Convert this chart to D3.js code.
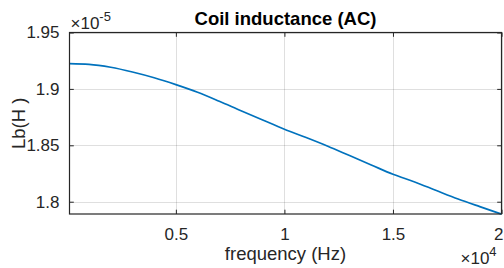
<!DOCTYPE html>
<html>
<head>
<meta charset="utf-8">
<script src="https://cdn.jsdelivr.net/npm/d3@7/dist/d3.min.js"></script>
<style>
  html, body { margin: 0; padding: 0; background: #fff; }
  svg { display: block; }
  text { font-family: "Liberation Sans", Arial, Helvetica, sans-serif; }
</style>
</head>
<body>
<svg id="chart" width="504" height="268"></svg>
<script>
// ---- data ----
const frequency = [100, 1000, 2000, 3000, 4000, 5000, 6000, 7000, 8000, 9000, 10000,
                   11000, 12000, 13000, 14000, 15000, 16000, 17000, 18000, 19000, 20000];
const inductance = [1.9224e-5, 1.9218e-5, 1.9192e-5, 1.9150e-5, 1.9099e-5, 1.9038e-5,
                    1.8970e-5, 1.8890e-5, 1.8806e-5, 1.8724e-5, 1.8643e-5, 1.8569e-5,
                    1.8492e-5, 1.8409e-5, 1.8326e-5, 1.8243e-5, 1.8175e-5, 1.8099e-5,
                    1.8024e-5, 1.7956e-5, 1.7890e-5];
const xTicks = [5000, 10000, 15000, 20000];
const xTickLabels = ["0.5", "1", "1.5", "2"];
const yTicks = [1.8e-5, 1.85e-5, 1.9e-5, 1.95e-5];
const yTickLabels = ["1.8", "1.85", "1.9", "1.95"];
const titleText = "Coil inductance (AC)";
const xLabelText = "frequency (Hz)";
const yLabelText = "Lb(H )";

// ---- layout ----
const L = 69.5, R = 501.5, T = 32.5, B = 214;
const svg = d3.select("#chart");
const x = d3.scaleLinear().domain([100, 20000]).range([L, R]);
const y = d3.scaleLinear().domain([1.7891e-5, 1.95e-5]).range([B, T]);
const axisCol = "#262626";
const tickLen = 4.3;

// grid
const grid = svg.append("g").attr("stroke", axisCol).attr("stroke-opacity", 0.15).attr("stroke-width", 1);
xTicks.forEach(t => grid.append("line").attr("x1", Math.round(x(t)) + 0.5).attr("x2", Math.round(x(t)) + 0.5).attr("y1", T).attr("y2", B));
yTicks.forEach(t => grid.append("line").attr("y1", Math.round(y(t)) + 0.5).attr("y2", Math.round(y(t)) + 0.5).attr("x1", L).attr("x2", R));

// data line
const line = d3.line().x((d, i) => x(frequency[i])).y(d => y(d)).curve(d3.curveMonotoneX);
svg.append("path").datum(inductance)
  .attr("d", line)
  .attr("fill", "none")
  .attr("stroke", "#0072BD")
  .attr("stroke-width", 1.7)
  .attr("stroke-linejoin", "round");

// axes via d3 axis generators (inward ticks)
const fs = 17;
const xAxisB = d3.axisBottom(x).tickValues(xTicks).tickFormat((d, i) => xTickLabels[i]).tickSizeInner(-tickLen).tickSizeOuter(0).tickPadding(14);
const xAxisT = d3.axisTop(x).tickValues(xTicks).tickFormat("").tickSizeInner(-tickLen).tickSizeOuter(0);
const yAxisL = d3.axisLeft(y).tickValues(yTicks).tickFormat((d, i) => yTickLabels[i]).tickSizeInner(-tickLen).tickSizeOuter(0).tickPadding(10);
const yAxisR = d3.axisRight(y).tickValues(yTicks).tickFormat("").tickSizeInner(-tickLen).tickSizeOuter(0);

function style(g) {
  g.select(".domain").remove();
  g.selectAll("line").attr("stroke", axisCol).attr("stroke-width", 1);
  g.selectAll("text").attr("fill", axisCol).style("font-size", fs + "px").style("font-family", '"Liberation Sans", Arial, sans-serif');
}
const gxb = svg.append("g").attr("transform", `translate(0,${B})`).call(xAxisB).call(style);
// keep the last label ("2") inside the picture edge
gxb.selectAll(".tick text").filter((d) => d === 20000).attr("text-anchor", "end").attr("dx", "1.5");
svg.append("g").attr("transform", `translate(0,${T})`).call(xAxisT).call(style);
svg.append("g").attr("transform", `translate(${L},0)`).call(yAxisL).call(style);
svg.append("g").attr("transform", `translate(${R},0)`).call(yAxisR).call(style);

// box
svg.append("rect").attr("x", L).attr("y", T).attr("width", R - L).attr("height", B - T)
  .attr("fill", "none").attr("stroke", axisCol).attr("stroke-width", 1.2);

// title
svg.append("text").attr("x", (L + R) / 2).attr("y", 25).attr("text-anchor", "middle")
  .style("font-size", "18.5px").style("font-weight", "bold").attr("fill", "#000").text(titleText);

// x label
svg.append("text").attr("x", (L + R) / 2).attr("y", 260).attr("text-anchor", "middle")
  .style("font-size", "18.5px").attr("fill", axisCol).text(xLabelText);

// y label
svg.append("text").attr("transform", `translate(24.5,${(T + B) / 2}) rotate(-90)`).attr("text-anchor", "middle")
  .style("font-size", "18.5px").attr("fill", axisCol).text(yLabelText);

// exponent labels
const e1 = svg.append("text").attr("x", 70.5).attr("y", 28.5).attr("fill", axisCol).style("font-size", "17px");
e1.append("tspan").text("×10");
e1.append("tspan").attr("dy", -8).style("font-size", "13px").text("-5");
const e2 = svg.append("text").attr("x", 460.5).attr("y", 263.5).attr("fill", axisCol).style("font-size", "17px");
e2.append("tspan").text("×10");
e2.append("tspan").attr("dy", -8).style("font-size", "13px").text("4");
</script>
</body>
</html>
